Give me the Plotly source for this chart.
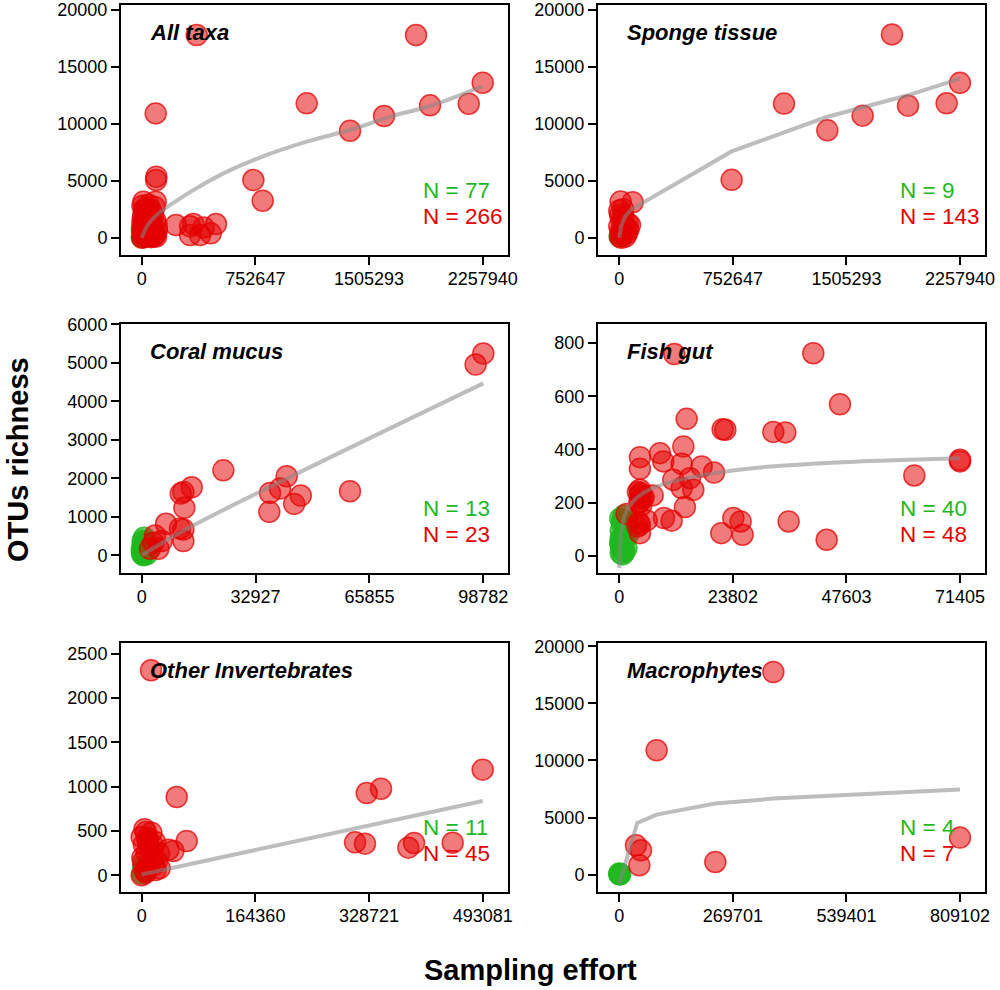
import plotly.graph_objects as go

# ---------------- DATA ----------------
panel_titles = ["All taxa", "Sponge tissue", "Coral mucus", "Fish gut", "Other Invertebrates", "Macrophytes"]
n_green = [77, 9, 13, 40, 11, 4]
n_red = [266, 143, 23, 48, 45, 7]

x_ticks_all = [0, 752647, 1505293, 2257940]
x_ticks_sponge = [0, 752647, 1505293, 2257940]
x_ticks_coral = [0, 32927, 65855, 98782]
x_ticks_fish = [0, 23802, 47603, 71405]
x_ticks_other = [0, 164360, 328721, 493081]
x_ticks_macro = [0, 269701, 539401, 809102]

y_ticks_all = [0, 5000, 10000, 15000, 20000]
y_ticks_sponge = [0, 5000, 10000, 15000, 20000]
y_ticks_coral = [0, 1000, 2000, 3000, 4000, 5000, 6000]
y_ticks_fish = [0, 200, 400, 600, 800]
y_ticks_other = [0, 500, 1000, 1500, 2000, 2500]
y_ticks_macro = [0, 5000, 10000, 15000, 20000]

# All taxa
all_red_x = [364200, 1816500, 2257940, 1909200, 2165300, 1092600, 1604600, 1379500, 92700, 97000, 95000,
             739400, 801200, 92700, 11000, 227300, 320000, 342000, 320000, 386000, 457000, 492000, 410000,
             5000, 15000, 30000, 45000, 60000, 75000, 85000, 10000, 25000, 40000, 55000, 70000, 90000,
             5000, 20000, 35000, 50000, 65000, 80000, 100000, 8000, 18000, 28000, 38000, 48000, 58000,
             68000, 78000, 88000, 3000, 12000, 22000, 33000, 43000, 53000, 63000, 73000, 83000, 95000,
             2000, 6000, 100000]
all_red_y = [17800, 17800, 13615, 11624, 11770, 11800, 10687, 9400, 10920, 5360, 5065,
             5065, 3250, 3160, 3160, 1113, 1000, 1200, 234, 234, 380, 1200, 900,
             2800, 2500, 2600, 2900, 2400, 2000, 2700, 2000, 1800, 1500, 1900, 1200, 1500,
             1200, 900, 700, 1000, 600, 800, 600, 400, 300, 100, 200, 400, 150,
             300, 100, 250, 0, 50, 600, 1300, 2100, 300, 50, 500, 400, 100,
             800, 1600, 1000]
all_green_x = [1000, 3000, 5000, 2000, 8000]
all_green_y = [50, 200, 400, 600, 100]
all_fit_x = [0, 33100, 66200, 99300, 320000, 540800, 739400, 1092600, 1379500, 1644300, 1909200, 2257940]
all_fit_y = [0, 966, 1555, 2000, 4000, 5650, 6822, 8433, 9457, 10629, 11566, 13322]

# Sponge tissue
sponge_red_x = [1807200, 2257940, 1091400, 1913200, 2169500, 1612800, 1378600, 744500, 88400, 8800, 0, 70700,
                5000, 15000, 25000, 35000, 45000, 10000, 20000, 30000, 40000, 50000, 60000, 5000, 15000,
                0, 25000, 55000]
sponge_red_y = [17857, 13600, 11777, 11600, 11806, 10720, 9428, 5081, 3113, 3172, 2380, 1116,
                2000, 1500, 1800, 1200, 900, 600, 300, 800, 100, 400, 700, 100, 0,
                1000, 2500, 1300]
sponge_green_x = [2000, 8000]
sponge_green_y = [100, 300]
sponge_fit_x = [0, 11000, 37600, 81700, 744500, 1374200, 1913200, 2257940]
sponge_fit_y = [0, 970, 1850, 2500, 7577, 10600, 12510, 13980]

# Coral mucus
coral_red_x = [98782, 96560, 23610, 41920, 40000, 37100, 46000, 44100, 36900, 60230, 14460, 11280, 12050,
               12340, 7035, 11080, 12050, 12050, 3855, 5780, 4820, 2410, 3370]
coral_red_y = [5242, 4957, 2207, 2052, 1733, 1621, 1552, 1336, 1129, 1664, 1767, 1603, 1647,
               1233, 819, 698, 672, 371, 517, 371, 172, 172, 328]
coral_green_x = [675, 290, 0, 100, 500, 1445, 964, 300, 800, 1200, 200, 600, 1000]
coral_green_y = [457, 310, 155, 69, 0, 26, 241, 380, 120, 200, 30, 60, 350]
coral_fit_x = [0, 12050, 41920, 98782]
coral_fit_y = [0, 640, 1990, 4466]

# Fish gut
fish_red_x = [11530, 40660, 46250, 14110, 21660, 22220, 32280, 34790, 13420, 8520, 9220, 4330, 4330,
              13070, 17260, 19840, 11320, 14810, 13070, 15510, 6990, 61830, 71405, 71405, 13760,
              4330, 4330, 4330, 5730, 4330, 4330, 9360, 10970, 23900, 25430, 21380, 25850, 35490,
              43460, 1540, 4800, 3900, 4600, 4100, 5100, 3800, 4500, 4200]
fish_red_y = [759, 762, 570, 515, 476, 474, 466, 464, 411, 386, 355, 371, 327,
              346, 336, 313, 286, 292, 255, 248, 227, 302, 355, 361, 183,
              230, 204, 248, 133, 117, 85, 142, 132, 142, 129, 85, 79, 129,
              60, 157, 215, 240, 190, 125, 220, 110, 235, 200]
fish_green_x = [300, 800, 1500, 200, 1000, 500, 1800, 300, 1200, 600, 1600, 200, 900, 400, 1400, 700,
                1100, 250, 1700, 650]
fish_green_y = [10, 20, 30, 45, 55, 70, 80, 95, 105, 120, 130, 140, 150, 30, 90, 5,
                15, 60, 110, 135]
fish_fit_x = [0, 140, 490, 1190, 2590, 5030, 9920, 19000, 29490, 43460, 57430, 71405]
fish_fit_y = [-46, 23, 98, 154, 198, 236, 273, 308, 332, 349, 359, 367]

# Other invertebrates
other_red_x = [13500, 493081, 346100, 325400, 50600, 65070, 308500, 322900, 385600, 393800, 449700, 38560,
               45790, 19280, 6270, 0, 0, 5000, 10000, 2000, 15000, 7000, 12000, 3000, 18000, 8000, 14000,
               4000, 20000, 1000, 9000, 16000, 6000, 22000, 25000, 26000]
other_red_y = [2312, 1192, 977, 928, 883, 387, 372, 357, 312, 365, 368, 289,
               274, 376, 489, 432, 0, 50, 100, 150, 200, 250, 300, 350, 120, 420, 480,
               520, 60, 200, 380, 340, 30, 160, 250, 80]
other_green_x = [1000, 3000, 2000]
other_green_y = [20, 60, 100]
other_fit_x = [0, 493081]
other_fit_y = [10, 838]

# Macrophytes
macro_red_x = [365800, 88670, 809102, 39590, 51460, 47500, 228000]
macro_red_y = [17750, 10890, 3241, 2570, 2130, 818, 1110]
macro_green_x = [0, 1000, 500, 2000]
macro_green_y = [30, 50, 100, 20]
macro_fit_x = [0, 42750, 88670, 228000, 365800, 809102]
macro_fit_y = [-790, 4526, 5256, 6220, 6658, 7446]

panels = [
    dict(rx=all_red_x, ry=all_red_y, gx=all_green_x, gy=all_green_y, fx=all_fit_x, fy=all_fit_y,
         xt=x_ticks_all, yt=y_ticks_all, xr=[-137070, 2425400], yr=[-1520, 20440], shape="spline"),
    dict(rx=sponge_red_x, ry=sponge_red_y, gx=sponge_green_x, gy=sponge_green_y, fx=sponge_fit_x, fy=sponge_fit_y,
         xt=x_ticks_sponge, yt=y_ticks_sponge, xr=[-141200, 2423600], yr=[-1520, 20440], shape="linear"),
    dict(rx=coral_red_x, ry=coral_red_y, gx=coral_green_x, gy=coral_green_y, fx=coral_fit_x, fy=coral_fit_y,
         xt=x_ticks_coral, yt=y_ticks_coral, xr=[-5986, 105925], yr=[-460, 6010], shape="spline"),
    dict(rx=fish_red_x, ry=fish_red_y, gx=fish_green_x, gy=fish_green_y, fx=fish_fit_x, fy=fish_fit_y,
         xt=x_ticks_fish, yt=y_ticks_fish, xr=[-4464, 76645], yr=[-65, 872], shape="spline"),
    dict(rx=other_red_x, ry=other_red_y, gx=other_green_x, gy=other_green_y, fx=other_fit_x, fy=other_fit_y,
         xt=x_ticks_other, yt=y_ticks_other, xr=[-29930, 529670], yr=[-188, 2620], shape="linear"),
    dict(rx=macro_red_x, ry=macro_red_y, gx=macro_green_x, gy=macro_green_y, fx=macro_fit_x, fy=macro_fit_y,
         xt=x_ticks_macro, yt=y_ticks_macro, xr=[-50580, 868470], yr=[-1524, 20290], shape="linear"),
]

# ---------------- LAYOUT ----------------
W, H = 1000, 990
col_px = [(121, 508), (598, 985)]
row_px = [(5, 255), (324, 573), (643, 892)]

FONT = "Liberation Sans, Arial, Helvetica, sans-serif"
RED_FILL = "rgba(228,0,0,0.52)"
RED_LINE = "rgba(228,0,0,0.75)"
GREEN_FILL = "rgba(30,185,30,0.65)"
GREEN_LINE = "rgba(30,185,30,0.8)"
FIT_COLOR = "rgba(135,135,135,0.55)"

fig = go.Figure()
annotations = []
layout_axes = {}

for i, p in enumerate(panels):
    r, c = divmod(i, 2)
    idx = "" if i == 0 else str(i + 1)
    xa, ya = "x" + idx, "y" + idx
    x0, x1 = col_px[c]
    t0, t1 = row_px[r]
    xdom = [x0 / W, x1 / W]
    ydom = [1 - t1 / H, 1 - t0 / H]

    fig.add_trace(go.Scatter(x=p["gx"], y=p["gy"], mode="markers", xaxis=xa, yaxis=ya,
                             marker=dict(size=21, color=GREEN_FILL, line=dict(color=GREEN_LINE, width=1.5)),
                             showlegend=False, hoverinfo="skip"))
    fig.add_trace(go.Scatter(x=p["rx"], y=p["ry"], mode="markers", xaxis=xa, yaxis=ya,
                             marker=dict(size=21, color=RED_FILL, line=dict(color=RED_LINE, width=1.5)),
                             showlegend=False, hoverinfo="skip"))
    fig.add_trace(go.Scatter(x=p["fx"], y=p["fy"], mode="lines", xaxis=xa, yaxis=ya,
                             line=dict(color=FIT_COLOR, width=4, shape=p["shape"]),
                             showlegend=False, hoverinfo="skip"))

    common = dict(showline=True, mirror=True, linecolor="black", linewidth=2, showgrid=False,
                  zeroline=False, ticks="outside", ticklen=8, tickwidth=1.5, tickcolor="black",
                  automargin=False,
                  tickfont=dict(family=FONT, size=18, color="black"))
    layout_axes["xaxis" + idx] = dict(domain=xdom, anchor=ya, range=p["xr"], tickmode="array",
                                      tickvals=p["xt"], ticktext=[str(v) for v in p["xt"]],
                                      ticklabelstandoff=-2, **common)
    layout_axes["yaxis" + idx] = dict(domain=ydom, anchor=xa, range=p["yr"], tickmode="array",
                                      tickvals=p["yt"], ticktext=[str(v) for v in p["yt"]], **common)

    annotations.append(dict(text="<b><i>" + panel_titles[i] + "</i></b>", xref=xa + " domain", yref=ya + " domain",
                            x=0.07, y=0.89, xanchor="left", yanchor="middle", showarrow=False,
                            font=dict(family=FONT, size=22, color="black")))
    annotations.append(dict(text="N = " + str(n_green[i]), xref=xa + " domain", yref=ya + " domain",
                            x=0.775, y=0.26, xanchor="left", yanchor="middle", showarrow=False,
                            font=dict(family=FONT, size=22.5, color="rgb(30,185,30)")))
    annotations.append(dict(text="N = " + str(n_red[i]), xref=xa + " domain", yref=ya + " domain",
                            x=0.775, y=0.153, xanchor="left", yanchor="middle", showarrow=False,
                            font=dict(family=FONT, size=22.5, color="rgb(228,0,0)")))

annotations.append(dict(text="<b>Sampling effort</b>", xref="paper", yref="paper", x=530 / W,
                        y=1 - 970 / H,
                        xanchor="center", yanchor="middle", showarrow=False,
                        font=dict(family=FONT, size=29, color="black")))
annotations.append(dict(text="<b>OTUs richness</b>", xref="paper", yref="paper", x=18 / W,
                        y=1 - 460 / H,
                        xanchor="center", yanchor="middle", showarrow=False, textangle=-90,
                        font=dict(family=FONT, size=29, color="black")))

fig.update_layout(width=W, height=H, autosize=False, margin=dict(l=0, r=0, t=0, b=0),
                  paper_bgcolor="white", plot_bgcolor="white", annotations=annotations, **layout_axes)

fig.write_html("out.html", config={"displayModeBar": False},
               post_script="document.body.style.margin='0';document.body.style.padding='0';")
